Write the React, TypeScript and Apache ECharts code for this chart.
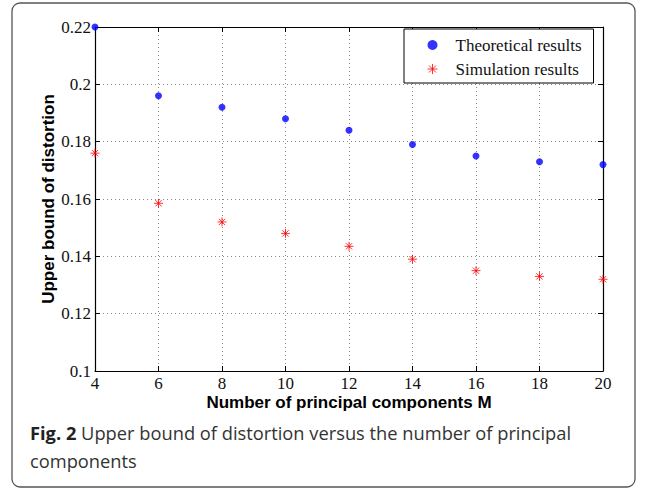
import React, { useEffect, useRef } from "react";
import * as echarts from "echarts";

const components = [4, 6, 8, 10, 12, 14, 16, 18, 20];
const theoretical = [0.22, 0.196, 0.192, 0.188, 0.184, 0.179, 0.175, 0.173, 0.172];
const simulation = [0.176, 0.1585, 0.152, 0.148, 0.1435, 0.139, 0.135, 0.133, 0.132];
const seriesNames = ["Theoretical results", "Simulation results"];
const xTitle = "Number of principal components M";
const yTitle = "Upper bound of distortion";
const captionBold = "Fig. 2";
const captionLine1 = " Upper bound of distortion versus the number of principal";
const captionLine2 = "components";

const starPath =
  "path://M0,-5L0,5M-5,0L5,0M-3.5,-3.5L3.5,3.5M-3.5,3.5L3.5,-3.5";

export default function App() {
  const ref = useRef<HTMLDivElement>(null);
  useEffect(() => {
    if (!ref.current) return;
    const chart = echarts.init(ref.current, null, { renderer: "svg" });
    const serif = "Liberation Serif";
    const tickLabel = { fontFamily: serif, fontSize: 17, color: "#111", lineHeight: 15 };
    const titleStyle = { fontFamily: "Liberation Sans", fontWeight: "bold", fontSize: 17, color: "#000", lineHeight: 17 };
    chart.setOption({
      animation: false,
      backgroundColor: "#fff",
      grid: { left: 95, right: 42, top: 27, bottom: 121, show: false },
      legend: {
        orient: "vertical",
        left: 404,
        top: 29,
        backgroundColor: "#fff",
        borderColor: "#000",
        borderWidth: 1,
        padding: [7, 12, 5, 23],
        itemGap: 6,
        itemWidth: 10,
        itemHeight: 10,
        textStyle: {
          fontFamily: serif,
          fontSize: 17,
          color: "#111",
          lineHeight: 18,
          padding: [0, 0, 0, 13],
        },
        data: [
          { name: seriesNames[0], icon: "circle", itemStyle: { color: "#0000ff" } },
          {
            name: seriesNames[1],
            icon: starPath,
            itemStyle: { color: "transparent", borderColor: "#ff0000", borderWidth: 1 },
          },
        ],
      },
      xAxis: [
        {
          type: "value",
          min: 4,
          max: 20,
          interval: 2,
          position: "bottom",
          name: xTitle,
          nameLocation: "middle",
          nameGap: 22.5,
          nameMoveOverlap: false,
          nameTextStyle: titleStyle,
          axisLine: { show: true, lineStyle: { color: "#000", width: 1.2 } },
          axisTick: { show: true, inside: true, length: 5, lineStyle: { color: "#000" } },
          axisLabel: { ...tickLabel, margin: 5 },
          splitLine: { show: true, lineStyle: { color: "#888", type: [1, 3], width: 1 } },
        },
        {
          type: "value",
          min: 4,
          max: 20,
          interval: 2,
          position: "top",
          axisLine: { show: true, onZero: false, lineStyle: { color: "#000", width: 1.2 } },
          axisTick: { show: true, inside: true, length: 5, lineStyle: { color: "#000" } },
          axisLabel: { show: false },
          splitLine: { show: false },
        },
      ],
      yAxis: [
        {
          type: "value",
          min: 0.1,
          max: 0.22,
          interval: 0.02,
          position: "left",
          name: yTitle,
          nameLocation: "middle",
          nameGap: 38,
          nameMoveOverlap: false,
          nameTextStyle: titleStyle,
          axisLine: { show: true, lineStyle: { color: "#000", width: 1.2 } },
          axisTick: { show: true, inside: true, length: 5, lineStyle: { color: "#000" } },
          axisLabel: {
            ...tickLabel,
            margin: 4,
            formatter: (v: number) => String(parseFloat(v.toFixed(3))),
          },
          splitLine: { show: true, lineStyle: { color: "#888", type: [1, 3], width: 1 } },
        },
        {
          type: "value",
          min: 0.1,
          max: 0.22,
          interval: 0.02,
          position: "right",
          axisLine: { show: true, onZero: false, lineStyle: { color: "#000", width: 1.2 } },
          axisTick: { show: true, inside: true, length: 5, lineStyle: { color: "#000" } },
          axisLabel: { show: false },
          splitLine: { show: false },
        },
      ],
      series: [
        {
          name: seriesNames[0],
          type: "scatter",
          symbol: "circle",
          symbolSize: 7,
          itemStyle: { color: "#0000ff" },
          data: components.map((c, i) => [c, theoretical[i]]),
          z: 5,
        },
        {
          name: seriesNames[1],
          type: "scatter",
          symbol: starPath,
          symbolSize: 9,
          itemStyle: { color: "transparent", borderColor: "#ff0000", borderWidth: 1 },
          data: components.map((c, i) => [c, simulation[i]]),
          z: 5,
        },
      ],
      graphic: [
        {
          type: "rect",
          shape: { x: 12, y: 3, width: 623, height: 484, r: 8 },
          style: { fill: "none", stroke: "#555", lineWidth: 1.3 },
          silent: true,
          z: -10,
        },
        {
          type: "text",
          left: 30,
          top: 423,
          style: {
            text: `{b|${captionBold}}{n|${captionLine1}}\n{n|${captionLine2}}`,
            rich: {
              b: { fontFamily: "Open Sans", fontWeight: "bold", fontSize: 18.3, lineHeight: 28, fill: "#222" },
              n: { fontFamily: "Open Sans", fontSize: 18.3, lineHeight: 28, fill: "#333" },
            },
          },
        },
      ],
    });
    return () => chart.dispose();
  }, []);
  return <div ref={ref} style={{ width: 645, height: 492, position: "absolute", left: 0, top: 0 }} />;
}
